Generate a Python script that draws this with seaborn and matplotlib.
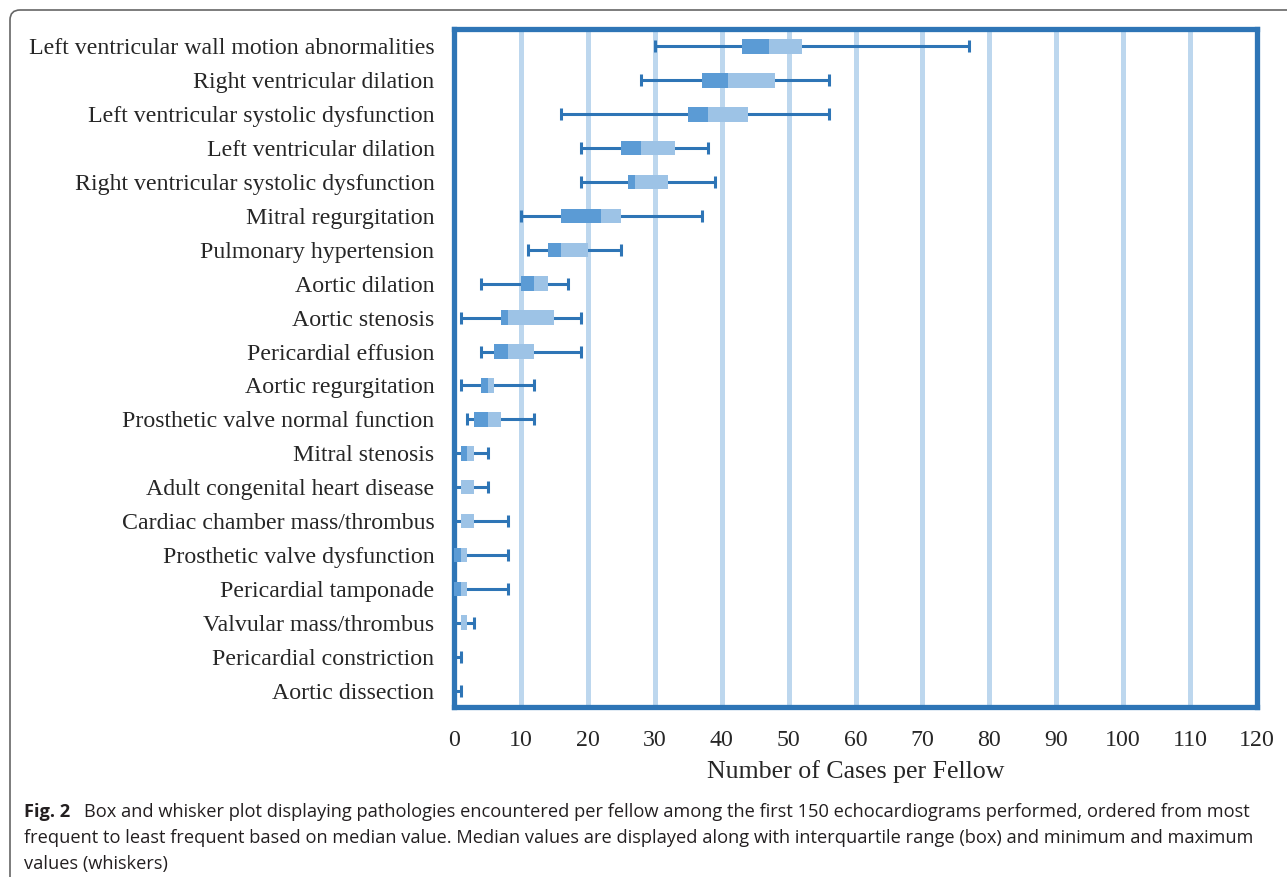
import numpy as np
import pandas as pd
import seaborn as sns
import matplotlib.pyplot as plt
from matplotlib.patches import FancyBboxPatch

# pathologies, ordered by median (most to least frequent)
pathologies = [
    "Left ventricular wall motion abnormalities",
    "Right ventricular dilation",
    "Left ventricular systolic dysfunction",
    "Left ventricular dilation",
    "Right ventricular systolic dysfunction",
    "Mitral regurgitation",
    "Pulmonary hypertension",
    "Aortic dilation",
    "Aortic stenosis",
    "Pericardial effusion",
    "Aortic regurgitation",
    "Prosthetic valve normal function",
    "Mitral stenosis",
    "Adult congenital heart disease",
    "Cardiac chamber mass/thrombus",
    "Prosthetic valve dysfunction",
    "Pericardial tamponade",
    "Valvular mass/thrombus",
    "Pericardial constriction",
    "Aortic dissection",
]
min_vals = [30, 28, 16, 19, 19, 10, 11, 4, 1, 4, 1, 2, 0, 0, 0, 0, 0, 0, 0, 0]
q1_vals = [43, 37, 35, 25, 26, 16, 14, 10, 7, 6, 4, 3, 1, 1, 1, 0, 0, 1, 0, 0]
median_vals = [47, 41, 38, 28, 27, 22, 16, 12, 8, 8, 5, 5, 2, 1, 1, 1, 1, 1, 0, 0]
q3_vals = [52, 48, 44, 33, 32, 25, 20, 14, 15, 12, 6, 7, 3, 3, 3, 2, 2, 2, 0, 0]
max_vals = [77, 56, 56, 38, 39, 37, 25, 17, 19, 19, 12, 12, 5, 5, 8, 8, 8, 3, 1, 1]
x_ticks = list(range(0, 121, 10))

caption_bold = "Fig. 2"
caption_lines = [
    "Box and whisker plot displaying pathologies encountered per fellow among the first 150 echocardiograms performed, ordered from most",
    "frequent to least frequent based on median value. Median values are displayed along with interquartile range (box) and minimum and maximum",
    "values (whiskers)",
]

DARK = "#5B9BD5"
LIGHT = "#9DC3E6"
LINE = "#2E75B6"
GRID = "#BDD7EE"

df = pd.DataFrame({
    "pathology": pathologies,
    "min": min_vals,
    "q1": q1_vals,
    "median": median_vals,
    "q3": q3_vals,
    "max": max_vals,
})
df["lower"] = df["median"] - df["q1"]
df["upper"] = df["q3"] - df["median"]

sns.set_style("white")
plt.rcParams["font.family"] = ["Liberation Serif", "DejaVu Serif"]

fig = plt.figure(figsize=(12.87, 8.77), dpi=100)
ax = fig.add_axes([0.3528, 0.1933, 0.6239, 0.7731])

# box: Q1 -> median (dark), median -> Q3 (light)
sns.barplot(data=df, y="pathology", x="lower", left=df["q1"].values, orient="h",
            color=DARK, saturation=1, width=0.43, errorbar=None, linewidth=0,
            zorder=3, ax=ax)
sns.barplot(data=df, y="pathology", x="upper", left=df["median"].values, orient="h",
            color=LIGHT, saturation=1, width=0.43, errorbar=None, linewidth=0,
            zorder=3, ax=ax)

# whiskers min -> max
pos = np.arange(len(df))
ax.errorbar(x=df["median"], y=pos,
            xerr=[df["median"] - df["min"], df["max"] - df["median"]],
            fmt="none", ecolor=LINE, elinewidth=2.2, capsize=4.5, capthick=2.2,
            zorder=2)

ax.set_xlim(0, 120)
ax.set_ylim(len(df) - 0.5, -0.5)
ax.set_xticks(x_ticks)
ax.xaxis.grid(True, color=GRID, linewidth=3.6)
ax.yaxis.grid(False)
ax.set_axisbelow(True)
ax.tick_params(axis="y", length=0, labelsize=17.2, pad=14)
ax.tick_params(axis="x", length=0, labelsize=17.2, pad=16)
ax.set_ylabel("")
ax.set_xlabel("Number of Cases per Fellow", fontsize=18.6, labelpad=7)
for s in ax.spines.values():
    s.set_visible(True)
    s.set_color(LINE)
    s.set_linewidth(3.8)

# caption frame
frame = FancyBboxPatch((0.10, -0.3), 13.2, 8.97, boxstyle="round,pad=0,rounding_size=0.1",
                       transform=fig.dpi_scale_trans, facecolor="none",
                       edgecolor="#666666", linewidth=1.2)
fig.add_artist(frame)

cap_font = ["Open Sans", "DejaVu Sans"]
cap_size = 13.15
fig.text(24 / 1287, 1 - 812 / 877, caption_bold, family=cap_font, fontsize=cap_size,
         fontweight="bold", va="center", ha="left", color="#231F20")
fig.text(84 / 1287, 1 - 812 / 877, caption_lines[0], family=cap_font, fontsize=cap_size,
         va="center", ha="left", color="#231F20")
fig.text(24 / 1287, 1 - 838 / 877, caption_lines[1], family=cap_font, fontsize=cap_size,
         va="center", ha="left", color="#231F20")
fig.text(24 / 1287, 1 - 864 / 877, caption_lines[2], family=cap_font, fontsize=cap_size,
         va="center", ha="left", color="#231F20")

fig.savefig("out.png", dpi=100)
